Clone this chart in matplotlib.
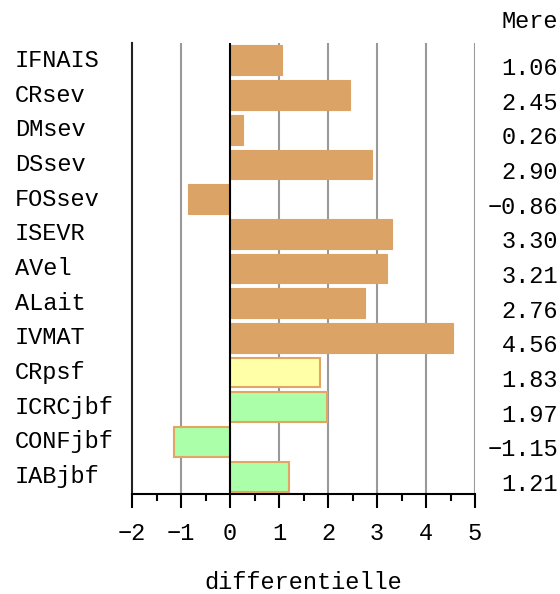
import matplotlib
matplotlib.use("Agg")
import matplotlib.pyplot as plt
import matplotlib.transforms as mtrans
import numpy as np

labels = ["IFNAIS", "CRsev", "DMsev", "DSsev", "FOSsev", "ISEVR", "AVel",
          "ALait", "IVMAT", "CRpsf", "ICRCjbf", "CONFjbf", "IABjbf"]
values = [1.06, 2.45, 0.26, 2.90, -0.86, 3.30, 3.21, 2.76, 4.56, 1.83, 1.97, -1.15, 1.21]
groups = ["sev"] * 9 + ["psf"] + ["jbf"] * 3
header = "Mere"
xlabel = "differentielle"

face = {"sev": "#dba466", "psf": "#ffffa8", "jbf": "#aaffa8"}
edge = {"sev": "#dba466", "psf": "#e3a562", "jbf": "#e3a562"}

plt.rcParams["font.family"] = ["Liberation Mono", "DejaVu Sans Mono"]
fs = 17

fig = plt.figure(figsize=(5.6, 5.94), dpi=100)
ax = fig.add_axes([132 / 560, 1 - 494 / 594, 343 / 560, 451 / 594])

y = np.arange(len(labels))
for yi, v, g in zip(y, values, groups):
    ax.barh(yi, v, height=0.86, color=face[g], edgecolor=edge[g],
            linewidth=1.5 if g != "sev" else 0.8, zorder=3)

ax.set_xlim(-2, 5)
ax.set_ylim(len(labels) - 0.5, -0.5)

# grid
for gx in [-1, 1, 2, 3, 4, 5]:
    ax.axvline(gx, color="#999999", lw=1.5, zorder=1)
ax.axvline(0, color="black", lw=1.5, zorder=4)

for s in ["top", "right"]:
    ax.spines[s].set_visible(False)
ax.spines["left"].set_linewidth(1.5)
ax.spines["bottom"].set_linewidth(1.5)
ax.spines["left"].set_color("#222222")

ax.set_yticks([])
ax.set_xticks(range(-2, 6))
ax.set_xticks(np.arange(-1.5, 5, 1), minor=True)
ax.tick_params(axis="x", which="major", length=10, width=1.5, direction="out",
               labelsize=fs, pad=10)
ax.tick_params(axis="x", which="minor", length=5, width=1.5, direction="out")
ax.set_xticklabels([str(t).replace("-", "\u2212") for t in range(-2, 6)])

ax.set_xlabel(xlabel, fontsize=fs, labelpad=19)

# row labels on the left, values on the right
tl = mtrans.blended_transform_factory(fig.transFigure, ax.transData)
off = mtrans.offset_copy(tl, fig=fig, x=0, y=-8, units="dots")
for yi, lab, v in zip(y, labels, values):
    ax.text(15 / 560, yi, lab, transform=tl, ha="left", va="center",
            fontsize=fs, clip_on=False)
    ax.text(558 / 560, yi, f"{v:.2f}".replace("-", "\u2212"), transform=off,
            ha="right", va="center", fontsize=fs, clip_on=False)

fig.text(558 / 560, 1 - 22 / 594, header, ha="right", va="center", fontsize=fs)

fig.savefig("out.png", dpi=100)
